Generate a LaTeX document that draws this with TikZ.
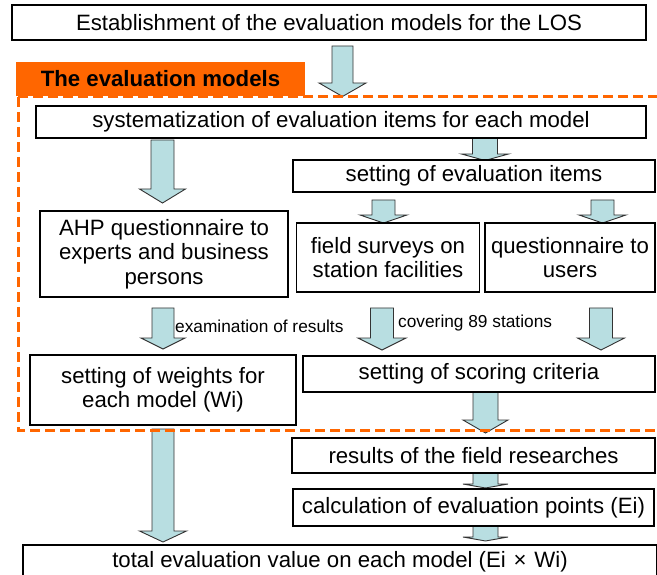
\documentclass[tikz,border=0pt]{standalone}
\usepackage{fontspec}
\setmainfont{Liberation Sans}
\usetikzlibrary{calc}
\definecolor{arrowfill}{HTML}{B8DEE1}
\definecolor{arrowline}{HTML}{333333}
\definecolor{orng}{HTML}{FF6600}
\newcommand\barrow[5]{%
  \draw[blockarrow] let \p1=(#1), \p2=(#2) in
    (\x1-#3pt,\y1) -- (\x1-#3pt,\y2+#5pt) -- (\x1-#4pt,\y2+#5pt) -- (\x1,\y2)
    -- (\x1+#4pt,\y2+#5pt) -- (\x1+#3pt,\y2+#5pt) -- (\x1+#3pt,\y1) -- cycle;}
\begin{document}
\begin{tikzpicture}[x=1pt,y=-1pt,
  box/.style={draw=black, line width=1.2pt, fill=white, inner sep=0pt, align=center,
    font=\fontsize{22.2}{24.5}\selectfont},
  blockarrow/.style={fill=arrowfill, draw=arrowline, line width=0.9pt, line join=miter},
  note/.style={inner sep=0pt, anchor=west, font=\fontsize{17.3}{20}\selectfont},
  dashframe/.style={draw=orng, line width=3pt, dash pattern=on 10pt off 5pt}]
\clip (0,0) rectangle (657,575);
% coordinates for block arrows
\coordinate (a1s) at (342.5,46);  \coordinate (a1e) at (342.5,96.5);
\coordinate (a2s) at (162.5,140); \coordinate (a2e) at (162.5,203);
\coordinate (a3s) at (485,137);   \coordinate (a3e) at (485,160.5);
\coordinate (a4s) at (383.5,200); \coordinate (a4e) at (383.5,223);
\coordinate (a5s) at (602.5,200); \coordinate (a5e) at (602.5,223);
\coordinate (a6s) at (163,308);   \coordinate (a6e) at (163,349);
\coordinate (a7s) at (382,308);   \coordinate (a7e) at (382,350);
\coordinate (a8s) at (601,308);   \coordinate (a8e) at (601,350);
\coordinate (a9s) at (485.5,392); \coordinate (a9e) at (485.5,433);
\coordinate (a10s) at (485.5,473); \coordinate (a10e) at (485.5,488);
\coordinate (a11s) at (485.5,526); \coordinate (a11e) at (485.5,541);
\coordinate (a12s) at (163,429);  \coordinate (a12e) at (163,542);
% arrows
\barrow{a1s}{a1e}{10.5}{23.5}{13.5}
\barrow{a2s}{a2e}{11.5}{23}{14}
\barrow{a3s}{a3e}{12.5}{23.5}{6.5}
\barrow{a4s}{a4e}{11.5}{23.5}{8}
\barrow{a5s}{a5e}{11.5}{23.5}{8}
\barrow{a6s}{a6e}{11}{22}{11}
\barrow{a7s}{a7e}{11.5}{24}{12}
\barrow{a8s}{a8e}{11.5}{23.5}{12}
\barrow{a9s}{a9e}{12.5}{22.5}{13}
\barrow{a10s}{a10e}{12.5}{22.5}{4}
\barrow{a11s}{a11e}{12.5}{22.5}{4}
\barrow{a12s}{a12e}{11}{23.5}{11}
% boxes
\node[box, minimum width=634pt, minimum height=35pt] (top) at (329,22.5)
  {Establishment of the evaluation models for the LOS};
\node[box, minimum width=610pt, minimum height=32pt] (sys) at (341,122)
  {systematization of evaluation items for each model};
\node[box, minimum width=362pt, minimum height=32pt] (items) at (474,176)
  {setting of evaluation items};
\node[box, minimum width=248pt, minimum height=86pt] (ahp) at (164,254)
  {AHP questionnaire to\\experts and business\\persons};
\node[box, minimum width=183pt, minimum height=69pt] (field) at (388,257.5)
  {field surveys on\\station facilities};
\node[box, minimum width=170pt, minimum height=69pt] (quest) at (570,257.5)
  {questionnaire to\\users};
\node[box, minimum width=266pt, minimum height=70pt] (weights) at (163,390)
  {setting of weights for\\each model (Wi)};
\node[box, minimum width=352pt, minimum height=36pt] (scoring) at (479,374)
  {setting of scoring criteria};
\node[box, minimum width=363pt, minimum height=35pt] (results) at (473.5,455.5)
  {results of the field researches};
\node[box, minimum width=361pt, minimum height=37pt] (calc) at (473.5,507.5)
  {calculation of evaluation points (Ei)};
\node[box, minimum width=634pt, minimum height=34pt] (total) at (340,562)
  {total evaluation value on each model (Ei\hspace{0.35em}×\hspace{0.35em}Wi)};
% notes
\node[note] (exam) at (175,326) {examination of results};
\node[note] (cover) at (398,323) {covering 89 stations};
% frame
\draw[dashframe] (18,97) -- (700,97);
\draw[dashframe] (18,97) -- (18,430) -- (700,430);
\node[fill=orng, inner sep=0pt, minimum width=289pt, minimum height=34pt,
  font=\bfseries\fontsize{22.2}{26}\selectfont] (label) at (160.5,79) {The evaluation models};
\end{tikzpicture}
\end{document}
